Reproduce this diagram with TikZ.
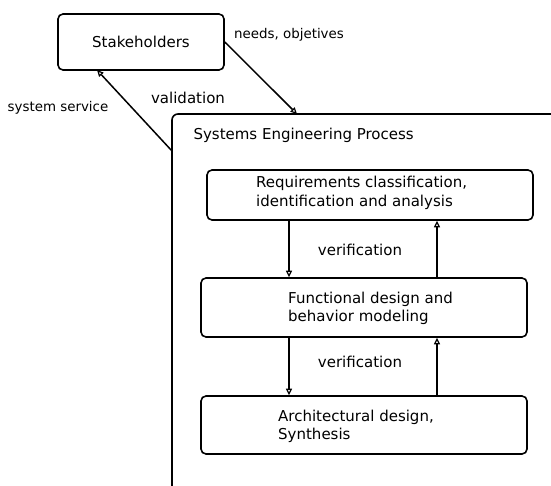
\documentclass[tikz,border=0pt]{standalone}
\usepackage{fontspec}
\setmainfont{DejaVu Sans}
\usepackage{tikz}
\usetikzlibrary{arrows.meta, positioning, calc}

\begin{document}
\begin{tikzpicture}[
    x=1pt, y=1pt,
    box/.style={draw, line width=1.6pt, rounded corners=5pt, align=left, font=\fontsize{15}{18.5}\selectfont},
    boxtext/.style={anchor=west, align=left, inner sep=0pt, font=\fontsize{15}{18.5}\selectfont},
    flow/.style={line width=1.5pt, -{Triangle[open, length=6.5pt, width=6pt, line width=1.2pt]}},
    tag/.style={font=\fontsize{15}{18}\selectfont},
    smalltag/.style={font=\fontsize{13.4}{16}\selectfont},
]
    \clip (0,0) rectangle (551,-486);

    % Stakeholders and process frame
    \node[box, minimum width=166, minimum height=56] (stake) at (141,-42) {Stakeholders};
    \node[box, minimum width=420, minimum height=420, rounded corners=6pt] (sep) at (382,-324) {};
    \node[tag, anchor=west] (septitle) at (190,-135) {Systems Engineering Process};

    % Process steps
    \node[box, minimum width=326, minimum height=50] (req) at (370,-195) {};
    \node[boxtext] (reqtext) at (256,-193) {Requirements classification,\\identification and analysis};
    \node[box, minimum width=326, minimum height=59] (func) at (364,-307.5) {};
    \node[boxtext] (functext) at (288,-308.5) {Functional design and\\behavior modeling};
    \node[box, minimum width=326, minimum height=58] (arch) at (364,-425) {};
    \node[boxtext] (archtext) at (278,-426.5) {Architectural design,\\Synthesis};

    % Connector ends
    \coordinate (needsend) at (297,-114);
    \coordinate (servstart) at (172,-151);
    \coordinate (servend) at (97,-70);
    \coordinate (lft) at (289,0);
    \coordinate (rgt) at (437,0);

    % Stakeholder loop
    \draw[flow] (stake.east) -- (needsend);
    \draw[flow] (servstart) -- (servend);
    \node[smalltag] (needs) at (289,-35) {needs, objetives};
    \node[tag] (valid) at (188,-98) {validation};
    \node[smalltag] (serv) at (58,-108) {system service};

    % Verification loops
    \draw[flow, line width=2.2pt] (req.south -| lft) -- (func.north -| lft);
    \draw[flow] (func.north -| rgt) -- (req.south -| rgt);
    \draw[flow] (func.south -| lft) -- (arch.north -| lft);
    \draw[flow] (arch.north -| rgt) -- (func.south -| rgt);
    \node[tag] (verif1) at (360,-250) {verification};
    \node[tag] (verif2) at (360,-362) {verification};
\end{tikzpicture}
\end{document}
